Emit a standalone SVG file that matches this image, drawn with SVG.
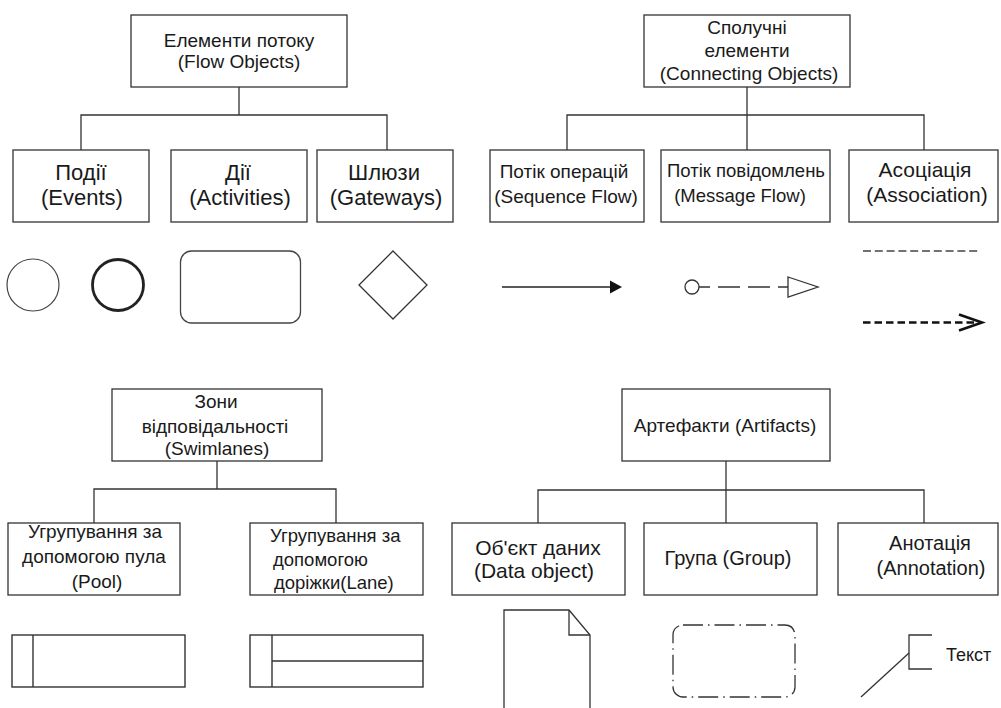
<svg xmlns="http://www.w3.org/2000/svg" width="1001" height="708" viewBox="0 0 1001 708">
<defs>
<style>
.box{fill:#fff;stroke:#333;stroke-width:1.3}
.ln{fill:none;stroke:#333;stroke-width:1.3}
.t{font-family:"Liberation Sans",Arial,sans-serif;fill:#1a1a1a;text-anchor:middle}
.s19{font-size:19px}
.s185{font-size:18.5px}
.s20{font-size:20px}
.s21{font-size:21px}
.s22{font-size:22px}
</style>
</defs>
<rect width="1001" height="708" fill="#fff"/>

<g id="connectors">
<path class="ln" d="M239,87 V115 M81,150 V115 H387 V150"/>
<path class="ln" d="M747,87 V150 M567,150 V115 H924 V150"/>
<path class="ln" d="M217,461 V489 M94,523 V489 H336 V523"/>
<path class="ln" d="M726,461 V523 M538,523 V490 H924 V523"/>
</g>

<g id="flow-objects">
<rect class="box" x="131" y="15" width="216" height="72"/>
<text class="t s19" x="239" y="47">Елементи потоку</text>
<text class="t s19" x="239" y="68">(Flow Objects)</text>
</g>
<g id="events">
<rect class="box" x="13" y="150" width="136" height="72"/>
<text class="t s22" x="81" y="180">Події</text>
<text class="t s22" x="82" y="205">(Events)</text>
</g>
<g id="activities">
<rect class="box" x="171" y="150" width="136" height="72"/>
<text class="t s22" x="238" y="180">Дії</text>
<text class="t s22" x="240" y="205">(Activities)</text>
</g>
<g id="gateways">
<rect class="box" x="317" y="150" width="136" height="72"/>
<text class="t s22" x="384" y="180">Шлюзи</text>
<text class="t s22" x="386" y="205">(Gateways)</text>
</g>

<g id="connecting-objects">
<rect class="box" x="644" y="15" width="206" height="72"/>
<text class="t s19" x="747" y="34">Сполучні</text>
<text class="t s19" x="747" y="57">елементи</text>
<text class="t s19" x="749" y="80">(Connecting Objects)</text>
</g>
<g id="sequence-flow">
<rect class="box" x="490" y="150" width="154" height="72"/>
<text class="t s19" x="564" y="178">Потік операцій</text>
<text class="t s19" x="566" y="203">(Sequence Flow)</text>
</g>
<g id="message-flow">
<rect class="box" x="661" y="150" width="169" height="72"/>
<text class="t s185" x="746" y="177">Потік повідомлень</text>
<text class="t s185" x="740" y="202">(Message Flow)</text>
</g>
<g id="association">
<rect class="box" x="849" y="150" width="149" height="72"/>
<text class="t s21" x="925" y="177">Асоціація</text>
<text class="t s21" x="927" y="202">(Association)</text>
</g>

<g id="event-shapes">
<circle cx="33" cy="285" r="26" fill="none" stroke="#444" stroke-width="1.2"/>
<circle cx="118" cy="285" r="25.5" fill="none" stroke="#222" stroke-width="2.8"/>
</g>
<g id="activity-shape">
<rect x="180.5" y="251" width="120" height="72" rx="11" fill="none" stroke="#444" stroke-width="1.3"/>
</g>
<g id="gateway-shape">
<polygon points="393,251 427,285 393,319 359,285" fill="none" stroke="#333" stroke-width="1.3"/>
</g>

<g id="sequence-shape">
<line x1="502" y1="287" x2="612" y2="287" stroke="#222" stroke-width="1.4"/>
<polygon points="610,280.5 622,287 610,293.5" fill="#111"/>
</g>
<g id="message-shape">
<circle cx="692" cy="287" r="7" fill="#fff" stroke="#333" stroke-width="1.3"/>
<line x1="699" y1="287" x2="788" y2="287" stroke="#333" stroke-width="1.3" stroke-dasharray="22 8" stroke-dashoffset="11"/>
<polygon points="788,277 818,287 788,297" fill="#fff" stroke="#333" stroke-width="1.3"/>
</g>
<g id="association-shapes">
<line x1="863" y1="251" x2="979" y2="251" stroke="#444" stroke-width="1.4" stroke-dasharray="8 3.8"/>
<line x1="863" y1="322.5" x2="976" y2="322.5" stroke="#111" stroke-width="2.6" stroke-dasharray="7.5 4"/>
<path d="M959,314.5 L982,322.5 L959,330.5" fill="none" stroke="#111" stroke-width="2.6"/>
</g>

<g id="swimlanes">
<rect class="box" x="112" y="389" width="210" height="72"/>
<text class="t s19" x="216" y="408">Зони</text>
<text class="t s19" x="215" y="433">відповідальності</text>
<text class="t s19" x="217" y="455">(Swimlanes)</text>
</g>
<g id="pool">
<rect class="box" x="8" y="523" width="172" height="72"/>
<text class="t s19" x="95" y="538">Угрупування за</text>
<text class="t s19" x="94" y="563">допомогою пула</text>
<text class="t s19" x="97" y="588">(Pool)</text>
</g>
<g id="lane">
<rect class="box" x="250" y="523" width="173" height="72"/>
<text class="t s185" x="270" y="542" style="text-anchor:start">Угрупування за</text>
<text class="t s185" x="273" y="566" style="text-anchor:start">допомогою</text>
<text class="t s185" x="274" y="589" style="text-anchor:start">доріжки(Lane)</text>
</g>

<g id="artifacts">
<rect class="box" x="622" y="389" width="208" height="72"/>
<text class="t s19" x="725" y="432">Артефакти (Artifacts)</text>
</g>
<g id="data-object">
<rect class="box" x="452" y="523" width="173" height="72"/>
<text class="t s21" x="538" y="555">Об'єкт даних</text>
<text class="t s21" x="534" y="578">(Data object)</text>
</g>
<g id="group">
<rect class="box" x="644" y="523" width="173" height="72"/>
<text class="t s20" x="728" y="565">Група (Group)</text>
</g>
<g id="annotation">
<rect class="box" x="838" y="523" width="160" height="72"/>
<text class="t s20" x="930" y="550">Анотація</text>
<text class="t s20" x="931" y="575">(Annotation)</text>
</g>

<g id="pool-shape">
<rect x="12" y="635" width="173" height="52" fill="none" stroke="#333" stroke-width="1.4"/>
<line x1="33" y1="635" x2="33" y2="687" stroke="#333" stroke-width="1.4"/>
</g>
<g id="lane-shape">
<rect x="250" y="635" width="173" height="52" fill="none" stroke="#333" stroke-width="1.4"/>
<line x1="272" y1="635" x2="272" y2="687" stroke="#333" stroke-width="1.4"/>
<line x1="272" y1="661" x2="423" y2="661" stroke="#333" stroke-width="1.4"/>
</g>
<g id="data-object-shape">
<path d="M504,712 V610 H569 L590,635 V712" fill="none" stroke="#333" stroke-width="1.3"/>
<path d="M569,610 V635 H590" fill="none" stroke="#333" stroke-width="1.3"/>
</g>
<g id="group-shape">
<rect x="673" y="625" width="122" height="72" rx="10" fill="none" stroke="#333" stroke-width="1.3" stroke-dasharray="20 5 1.5 5"/>
</g>
<g id="annotation-shape">
<path d="M932,635 H909 V669 H932" fill="none" stroke="#333" stroke-width="1.3"/>
<line x1="909" y1="653" x2="861" y2="697" stroke="#333" stroke-width="1.3"/>
<text x="946" y="661" font-family="Liberation Sans, Arial, sans-serif" font-size="18" fill="#1a1a1a">Текст</text>
</g>
</svg>
